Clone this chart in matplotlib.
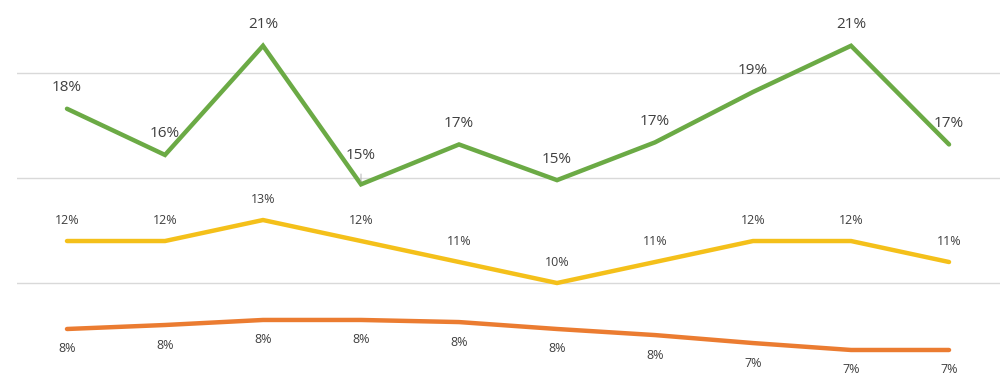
import matplotlib
matplotlib.use("Agg")
import matplotlib.pyplot as plt

plt.rcParams['font.family'] = ['Open Sans', 'DejaVu Sans']

categories = list(range(10))
green = [18.3, 16.1, 21.3, 14.7, 16.6, 14.9, 16.7, 19.1, 21.3, 16.6]
yellow = [12.0, 12.0, 13.0, 12.0, 11.0, 10.0, 11.0, 12.0, 12.0, 11.0]
orange = [7.81, 8.0, 8.24, 8.24, 8.14, 7.81, 7.52, 7.14, 6.81, 6.81]
yticks = [10, 15, 20]
ytick_labels = ["10%", "15%", "20%"]

GREEN = "#6BAA45"
YELLOW = "#F4C01A"
ORANGE = "#EB7C31"
TXT = "#404040"

fig = plt.figure(figsize=(10.04, 3.84), dpi=100)
ax = fig.add_axes([17 / 1004, 0, 983 / 1004, 1])
ax.set_xlim(-0.51, 9.52)
ax.set_ylim(5.19, 23.48)

for s in ax.spines.values():
    s.set_visible(False)
ax.set_xticks([])
ax.set_yticks(yticks)
ax.set_yticklabels(ytick_labels, color=TXT, fontsize=9)
ax.tick_params(axis='y', length=0, pad=16)
ax.grid(axis='y', color="#D9D9D9", lw=1)
ax.set_axisbelow(True)

ax.plot(categories, green, color=GREEN, lw=3.2, solid_capstyle='round', solid_joinstyle='miter')
ax.plot(categories, yellow, color=YELLOW, lw=3.2, solid_capstyle='round', solid_joinstyle='miter')
ax.plot(categories, orange, color=ORANGE, lw=3.2, solid_capstyle='round', solid_joinstyle='miter')

for i, v in enumerate(green):
    lab = f"{v:.0f}%"
    if i == 3:
        ax.annotate(lab, (i, v), xytext=(0, 29), textcoords='offset pixels',
                    ha='center', va='center', fontsize=11, color=TXT,
                    arrowprops=dict(arrowstyle='-', color='#A6A6A6', lw=0.6,
                                    shrinkA=6, shrinkB=2))
    else:
        ax.annotate(lab, (i, v), xytext=(0, 21), textcoords='offset pixels',
                    ha='center', va='center', fontsize=11, color=TXT)

for i, v in enumerate(yellow):
    ax.annotate(f"{v:.0f}%", (i, v), xytext=(0, 21), textcoords='offset pixels',
                ha='center', va='center', fontsize=9, color=TXT)

for i, v in enumerate(orange):
    ax.annotate(f"{v:.0f}%", (i, v), xytext=(0, -20), textcoords='offset pixels',
                ha='center', va='center', fontsize=9, color=TXT)

fig.savefig("out.png", dpi=100)
